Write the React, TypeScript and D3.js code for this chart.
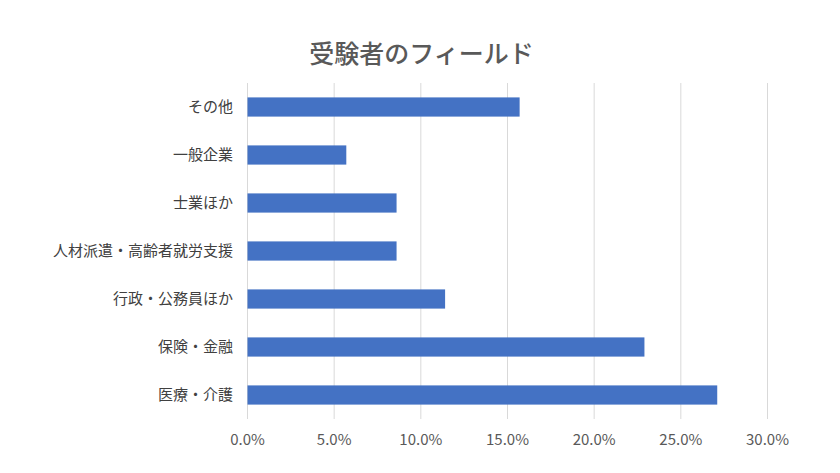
import React from "react";
import * as d3 from "d3";

const categories = [
  "その他",
  "一般企業",
  "士業ほか",
  "人材派遣・高齢者就労支援",
  "行政・公務員ほか",
  "保険・金融",
  "医療・介護",
];
const values = [15.7, 5.7, 8.6, 8.6, 11.4, 22.9, 27.1];
const tickValues = [0, 5, 10, 15, 20, 25, 30];
const title = "受験者のフィールド";

const W = 840;
const H = 473;
const plotLeft = 247.5;
const plotRight = 767.5;
const plotTop = 83;
const plotBottom = 419;
const FONT = "'Noto Sans CJK JP', 'Noto Sans', sans-serif";

export default function App() {
  const x = d3.scaleLinear().domain([0, 30]).range([plotLeft, plotRight]);
  const y = d3
    .scaleBand<string>()
    .domain(categories)
    .range([plotTop, plotBottom])
    .paddingInner(0.6)
    .paddingOuter(0.3);

  return (
    <svg
      width={W}
      height={H}
      style={{ position: "absolute", left: 0, top: 0, background: "#fff" }}
      fontFamily={FONT}
    >
      <rect x={0} y={0} width={W} height={H} fill="#fff" />
      <text
        x={421.5}
        y={63}
        textAnchor="middle"
        fontSize={25}
        fontWeight={500}
        fill="#595959"
      >
        {title}
      </text>
      {tickValues.map((t) => (
        <g key={t}>
          <line
            x1={x(t)}
            x2={x(t)}
            y1={plotTop}
            y2={plotBottom}
            stroke="#d9d9d9"
            strokeWidth={1}
          />
          <text
            x={x(t)}
            y={445}
            textAnchor="middle"
            fontSize={15}
            fill="#595959"
          >
            {d3.format(".1f")(t) + "%"}
          </text>
        </g>
      ))}
      {categories.map((c, i) => (
        <g key={c}>
          <rect
            x={x(0)}
            y={y(c)}
            width={x(values[i]) - x(0)}
            height={y.bandwidth()}
            fill="#4472c4"
          />
          <text
            x={233}
            y={(y(c) as number) + y.bandwidth() / 2}
            dy="0.35em"
            textAnchor="end"
            fontSize={15}
            fill="#404040"
          >
            {c}
          </text>
        </g>
      ))}
    </svg>
  );
}
